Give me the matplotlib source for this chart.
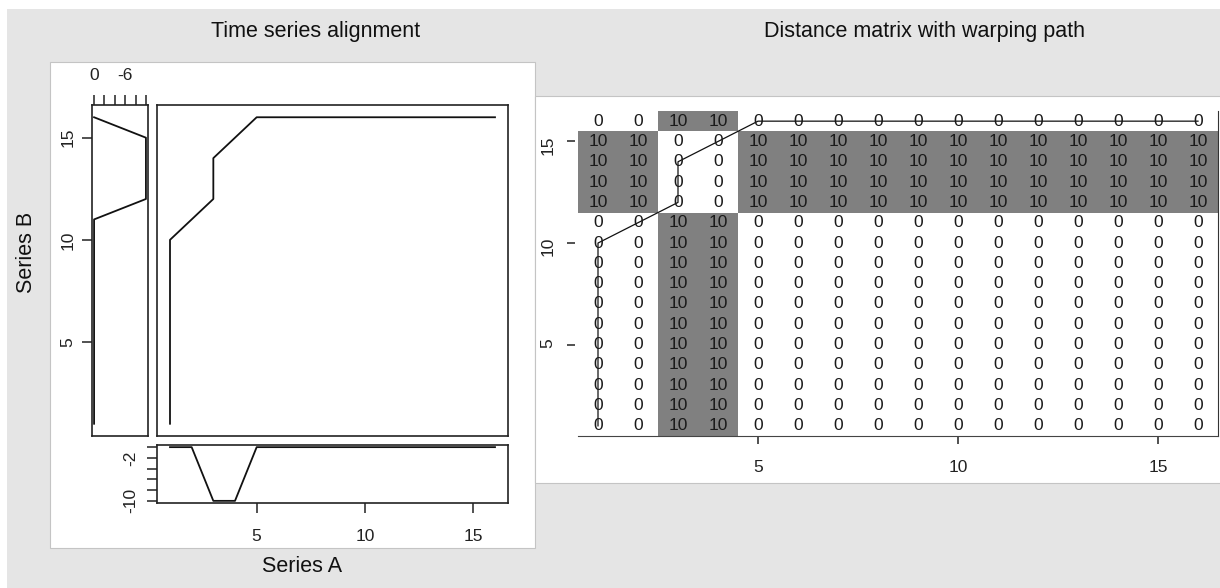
import numpy as np
import matplotlib
matplotlib.use("Agg")
import matplotlib.pyplot as plt
from matplotlib.patches import Rectangle
from matplotlib.colors import ListedColormap

plt.rcParams["font.family"] = ["Liberation Sans", "DejaVu Sans"]

# series values
series_a = [0, 0, -10, -10, 0, 0, 0, 0, 0, 0, 0, 0, 0, 0, 0, 0]
series_b = [0, 0, 0, 0, 0, 0, 0, 0, 0, 0, 0, -10, -10, -10, -10, 0]

# warping path (index into A, index into B)
path_a = [1, 1, 1, 1, 1, 1, 1, 1, 1, 1, 2, 3, 3, 3, 4, 5,
          6, 7, 8, 9, 10, 11, 12, 13, 14, 15, 16]
path_b = [1, 2, 3, 4, 5, 6, 7, 8, 9, 10, 11, 12, 13, 14, 15, 16,
          16, 16, 16, 16, 16, 16, 16, 16, 16, 16, 16]

idx_ticks = [5, 10, 15]
value_ticks = [0, -2, -4, -6, -8, -10]
top_labels = ["0", "", "", "-6", "", ""]
side_labels = ["", "-2", "", "", "", "-10"]

idx = np.arange(1, len(series_a) + 1)
dist = np.abs(np.subtract.outer(np.array(series_b), np.array(series_a)))

W, H = 1220, 588
fig = plt.figure(figsize=(W / 100, H / 100), dpi=100, facecolor="white")


def box(x0, y0, x1, y1):
    return [x0 / W, 1 - y1 / H, (x1 - x0) / W, (y1 - y0) / H]


def panel(x0, y0, x1, y1, fc, ec, lw, z):
    fig.patches.append(Rectangle((x0 / W, 1 - y1 / H), (x1 - x0) / W, (y1 - y0) / H,
                                 transform=fig.transFigure, facecolor=fc,
                                 edgecolor=ec, linewidth=lw, zorder=z))


# grey page + white image frames
panel(7, 9, W + 5, H + 5, "#e5e5e5", "none", 0, -30)
panel(50, 62, 535, 548, "white", "#c4c4c4", 0.8, -20)
panel(535, 96, W + 5, 483, "white", "#c4c4c4", 0.8, -10)

fig.text(316 / W, 1 - 31 / H, "Time series alignment", ha="center", va="center",
         fontsize=15.5, color="#111111")
fig.text(925 / W, 1 - 31 / H, "Distance matrix with warping path", ha="center",
         va="center", fontsize=15.5, color="#111111")
fig.text(27 / W, 1 - 252 / H, "Series B", rotation=90, ha="center", va="center",
         fontsize=15.5, color="#111111")
fig.text(302 / W, 1 - 567 / H, "Series A", ha="center", va="center",
         fontsize=15.5, color="#111111")

lim = (0.4, 16.6)
vlim = (0.4, -10.4)
tick_kw = dict(width=1.1, color="#222222", labelsize=12.5,
               labelcolor="#222222", direction="out")


def frame(ax):
    ax.set_facecolor("none")
    for s in ax.spines.values():
        s.set_color("#222222")
        s.set_linewidth(1.2)


# main alignment panel
ax_main = fig.add_axes(box(157, 105, 508, 436))
ax_main.plot(path_a, path_b, color="#111111", lw=1.3)
ax_main.set_xlim(lim)
ax_main.set_ylim(lim)
ax_main.set_xticks([])
ax_main.set_yticks([])
frame(ax_main)

# series B on the left
ax_b = fig.add_axes(box(92, 105, 148, 436))
ax_b.plot(series_b, idx, color="#111111", lw=1.3)
ax_b.set_xlim(vlim)
ax_b.set_ylim(lim)
ax_b.xaxis.tick_top()
ax_b.set_xticks(value_ticks)
ax_b.set_xticklabels(top_labels)
ax_b.set_yticks(idx_ticks)
ax_b.set_yticklabels([str(t) for t in idx_ticks], va="center")
ax_b.tick_params(axis="x", pad=8, length=7.5, **tick_kw)
ax_b.tick_params(axis="y", pad=4.5, length=7.5, labelrotation=90, **tick_kw)
frame(ax_b)

# series A at the bottom
ax_a = fig.add_axes(box(157, 445, 508, 503))
ax_a.plot(idx, series_a, color="#111111", lw=1.3)
ax_a.set_xlim(lim)
ax_a.set_ylim(vlim[::-1])
ax_a.set_yticks(value_ticks)
ax_a.set_yticklabels(side_labels, va="center")
ax_a.set_xticks(idx_ticks)
ax_a.tick_params(axis="x", pad=11.5, length=7.5, **tick_kw)
ax_a.tick_params(axis="y", pad=6, length=7.5, labelrotation=90, **tick_kw)
frame(ax_a)

# distance matrix with path
ax_d = fig.add_axes(box(578, 111, 1218, 436))
ax_d.set_facecolor("none")
ax_d.imshow(dist, cmap=ListedColormap(["white", "#808080"]), origin="lower",
            extent=(0.5, 16.5, 0.5, 16.5), aspect="auto", vmin=0, vmax=10,
            interpolation="nearest")
for j in range(dist.shape[0]):
    for i in range(dist.shape[1]):
        ax_d.text(i + 1, j + 1, f"{dist[j, i]:g}", ha="center", va="center",
                  fontsize=12.5, color="#1a1a1a")
ax_d.plot(path_a, path_b, color="#111111", lw=0.9)
ax_d.set_xlim(0.5, 16.5)
ax_d.set_ylim(0.5, 16.5)
ax_d.set_xticks(idx_ticks)
ax_d.set_yticks(idx_ticks)
ax_d.set_yticklabels([str(t) for t in idx_ticks], va="center")
ax_d.spines["top"].set_visible(False)
ax_d.spines["left"].set_position(("outward", 2.5))
ax_d.spines["left"].set_color("none")
ax_d.spines["bottom"].set_color("#444444")
ax_d.spines["right"].set_color("#333333")
ax_d.tick_params(axis="x", pad=11.5, length=6, **tick_kw)
ax_d.tick_params(axis="y", pad=7.5, length=6, labelrotation=90, **tick_kw)

fig.savefig("out.png", dpi=100, facecolor=fig.get_facecolor())
